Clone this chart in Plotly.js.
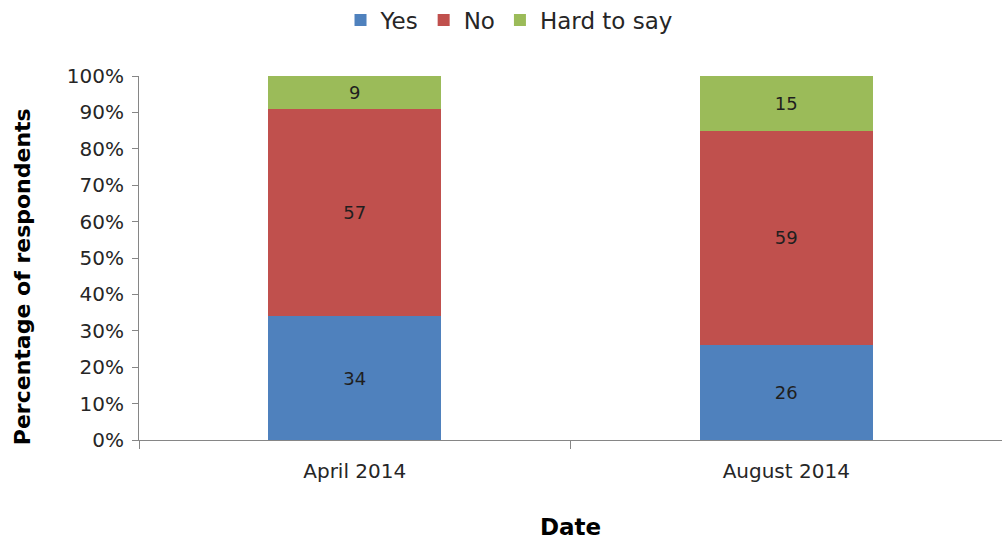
<!DOCTYPE html>
<html>
<head>
<meta charset="utf-8">
<script src="https://cdn.plot.ly/plotly-3.0.1.min.js"></script>
<style>html,body{margin:0;padding:0;background:#fff;}#chart{width:1002px;height:541px;}</style>
</head>
<body>
<div id="chart"></div>
<script>
const categories = ["April 2014", "August 2014"];
const yesValues = [34, 26];
const noValues = [57, 59];
const hardValues = [9, 15];
const yTickVals = [0, 10, 20, 30, 40, 50, 60, 70, 80, 90, 100];
const yTitle = "Percentage of respondents";
const xTitle = "Date";

const FONT = "'DejaVu Sans', sans-serif";
function series(name, vals, color) {
  return {
    type: "bar", name: name, x: categories, y: vals,
    marker: {color: color, line: {width: 0}},
    text: vals.map(String), textposition: "inside", insidetextanchor: "middle",
    textfont: {family: FONT, size: 18, color: "#1f1f1f"},
    hoverinfo: "skip"
  };
}
const data = [
  series("Yes", yesValues, "#4F81BD"),
  series("No", noValues, "#C0504D"),
  series("Hard to say", hardValues, "#9BBB59")
];
const layout = {
  width: 1002, height: 541,
  margin: {l: 139, r: 0, t: 76, b: 101},
  paper_bgcolor: "#fff", plot_bgcolor: "#fff",
  barmode: "stack", bargap: 0.6,
  font: {family: FONT, size: 20, color: "#262626"},
  showlegend: true,
  legend: {orientation: "h", xref: "container", x: 0.508, xanchor: "center",
           yref: "container", y: 0.963, yanchor: "middle",
           font: {family: FONT, size: 23, color: "#262626"}, traceorder: "normal",
           itemwidth: 30, tracegroupgap: 0},
  xaxis: {
    type: "category", range: [-0.5, 1.5], tickson: "boundaries",
    ticks: "outside", ticklen: 8, tickcolor: "#868686", ticklabelstandoff: 13,
    showline: true, linecolor: "#868686", linewidth: 1, showgrid: false,
    tickfont: {family: FONT, size: 20, color: "#262626"},
    title: {text: "<b>" + xTitle + "</b>", font: {family: FONT, size: 23, color: "#000"}, standoff: 36}
  },
  yaxis: {
    range: [0, 100], tickvals: yTickVals, ticktext: yTickVals.map(v => v + "%"),
    ticks: "outside", ticklen: 6, tickcolor: "#868686", ticklabelstandoff: 4,
    showline: true, linecolor: "#868686", linewidth: 1, showgrid: false, zeroline: false,
    tickfont: {family: FONT, size: 20, color: "#262626"}
  },
  annotations: [{
    text: "<b>" + yTitle + "</b>", textangle: -90, showarrow: false,
    xref: "paper", x: -0.1356, xanchor: "center",
    yref: "paper", y: 0.45, yanchor: "middle",
    font: {family: FONT, size: 22, color: "#000"}
  }]
};
Plotly.newPlot("chart", data, layout, {displayModeBar: false, staticPlot: true});
</script>
</body>
</html>
